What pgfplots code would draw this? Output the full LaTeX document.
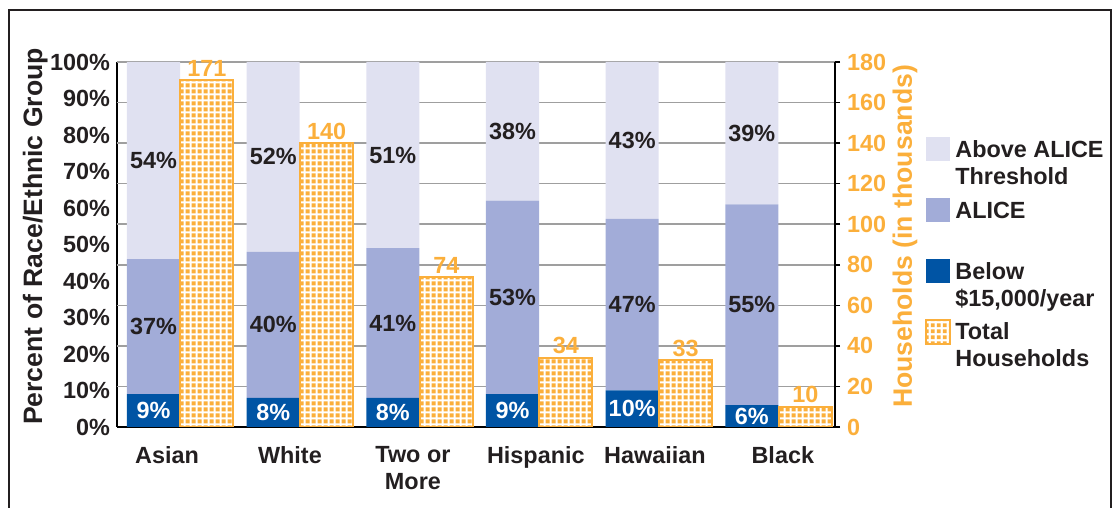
\documentclass[border=0pt]{standalone}
\usepackage{fontspec}
\setmainfont{Liberation Sans}
\usepackage{pgfplots}
\pgfplotsset{compat=1.18}
\usepackage{pgfplotstable}
\usetikzlibrary{patterns}

\definecolor{above}{RGB}{224,225,241}
\definecolor{alice}{RGB}{162,172,216}
\definecolor{below}{RGB}{0,84,164}
\definecolor{orng}{RGB}{251,175,59}
\definecolor{txt}{RGB}{35,31,32}

\newcommand\fnt{\fontsize{11.7}{13.5}\selectfont\bfseries}
\newcommand\flab{\fontsize{13.3}{15}\selectfont\bfseries}

\pgfdeclarepatternformonly{odots}{\pgfqpoint{0pt}{0pt}}{\pgfqpoint{2.8pt}{2.8pt}}{\pgfqpoint{2.8pt}{2.8pt}}{%
  \pgfpathrectangle{\pgfqpoint{0.4pt}{0.4pt}}{\pgfqpoint{2.05pt}{2.05pt}}\pgfusepath{fill}}

% percent of households by group, and total households (thousands)
\pgfplotstableread{
x below alice above total
0 9  37 54 171
1 8  40 52 140
2 8  41 51 74
3 9  53 38 34
4 10 47 43 33
5 6  55 39 10
}\data

\pgfplotsset{frame/.style={at={(58.5pt,40.5pt)}, anchor=south west,
  width=359pt, height=182.5pt, scale only axis, xmin=0, xmax=6,
  /pgf/number format/assume math mode=true}}

\begin{document}
\begin{tikzpicture}[font=\fnt]
% left axis: stacked percentages
\begin{axis}[frame, ymin=0, ymax=100,
  axis x line*=bottom, axis y line*=left,
  axis line style={line width=1pt, black},
  ybar stacked, bar width=0.443,
  ytick={0,10,...,100}, yticklabel={\pgfmathprintnumber{\tick}\%},
  major tick length=0pt,
  xtick={0.418,1.445,2.473,3.5,4.495,5.564},
  xticklabels={Asian, White, Two or\\More, Hispanic, Hawaiian, Black},
  xticklabel style={align=center, yshift=-6pt},
  tick label style={font=\fnt, text=txt},
  extra y ticks={11.111,22.222,33.333,44.444,55.556,66.667,77.778,88.889,100},
  extra y tick style={yticklabel={}, grid=major, major grid style={gray!75, line width=0.75pt}},
  every axis y label/.style={at={(axis description cs:-0.114,0.522)}, rotate=90, anchor=center},
  ylabel={Percent of Race/Ethnic Group}, ylabel style={font=\flab, text=txt},
]
\addplot[fill=below, draw=none] table[x expr=\thisrow{x}+0.305, y=below] {\data};
\addplot[fill=alice, draw=none] table[x expr=\thisrow{x}+0.305, y=alice] {\data};
\addplot[fill=above, draw=none] table[x expr=\thisrow{x}+0.305, y=above] {\data};
\end{axis}

% right axis: total households
\begin{axis}[frame, ymin=0, ymax=180,
  axis y line*=right, axis x line=none, xtick=\empty,
  axis line style={line width=1pt, black},
  ytick={0,20,...,180}, tick align=outside, major tick length=2.5pt,
  tick style={black, line width=0.8pt},
  yticklabel style={font=\fnt, text=orng},
  ybar, bar width=0.443, bar shift=0pt,
  nodes near coords, nodes near coords style={font=\fnt, text=orng, inner sep=1.4pt},
  every axis y label/.style={at={(axis description cs:1.0975,0.522)}, rotate=90, anchor=center},
  ylabel={Households (in thousands)}, ylabel style={font=\flab, text=orng},
  legend style={at={(axis description cs:1.1253,0.804)}, anchor=north west,
    draw=none, fill=none, inner sep=0pt, column sep=0pt, row sep=1.8pt,
    font=\fnt, text=txt, cells={anchor=north west, align=left, inner sep=0pt}},
  legend image code/.code={\path[#1] (0pt,-1.75pt) rectangle (12pt,-13.75pt);},
]
\addlegendimage{fill=above, draw=none}
\addlegendentry{\strut Above ALICE\\Threshold\strut}
\addlegendimage{fill=alice, draw=none}
\addlegendentry{\strut ALICE\\\strut}
\addlegendimage{fill=below, draw=none}
\addlegendentry{\strut Below\\\$15,000/year\strut}
\addplot[fill=white, draw=orng, line width=1pt, postaction={pattern=odots, pattern color=orng}]
  table[x expr=\thisrow{x}+0.752, y=total] {\data};
\addlegendentry{\strut Total\\Households\strut}
\end{axis}

% segment labels
\begin{axis}[frame, ymin=0, ymax=100, hide axis,
  nodes near coords={\pgfmathprintnumber{\pgfplotspointmeta}\%},
  point meta=explicit,
  nodes near coords style={anchor=center, font=\fnt},
]
\addplot[draw=none, mark=none, nodes near coords style={text=white}]
  table[x expr=\thisrow{x}+0.305, y expr=\thisrow{below}/2, meta=below] {\data};
\addplot[draw=none, mark=none, nodes near coords style={text=txt}]
  table[x expr=\thisrow{x}+0.305, y expr=\thisrow{below}+\thisrow{alice}/2, meta=alice] {\data};
\addplot[draw=none, mark=none, nodes near coords style={text=txt}]
  table[x expr=\thisrow{x}+0.305, y expr=100-\thisrow{above}/2, meta=above] {\data};
\end{axis}

\draw[line width=1.2pt, txt] (4.5pt,-2pt) |- (555.5pt,249pt) -- (555.5pt,-2pt);
\pgfresetboundingbox
\useasboundingbox (0,0) rectangle (560pt,254pt);
\end{tikzpicture}
\end{document}
